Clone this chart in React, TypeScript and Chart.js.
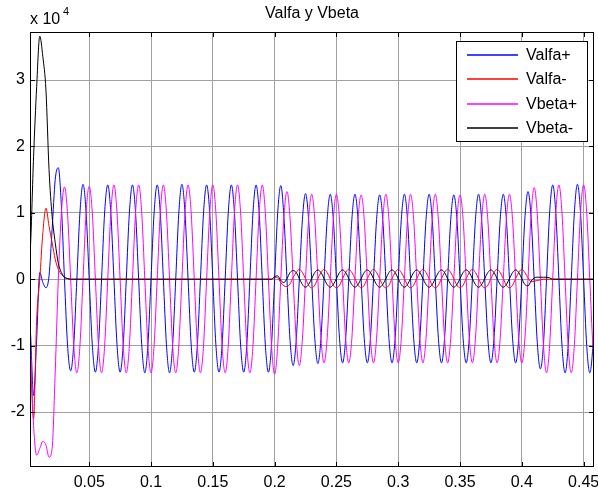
import React, { useEffect, useRef } from "react";
import { Chart, registerables } from "chart.js";

Chart.register(...registerables);

// ---- data (values in units of 10^4, one sample every 2.5 ms, 8 samples per 20 ms cycle) ----
const SAMPLE_STEP = 0.0025;

const X_TICKS = [0.05, 0.1, 0.15, 0.2, 0.25, 0.3, 0.35, 0.4, 0.45];
const X_TICK_LABELS = ["0.05", "0.1", "0.15", "0.2", "0.25", "0.3", "0.35", "0.4", "0.45"];
const Y_TICKS = [-2, -1, 0, 1, 2, 3];
const Y_TICK_LABELS = ["-2", "-1", "0", "1", "2", "3"];
const SERIES_NAMES = ["Valfa+", "Valfa-", "Vbeta+", "Vbeta-"];
const TITLE = "Valfa y Vbeta";

const VALFA_POS = [
  0, -0.8, -1.75, -0.9, 0.1, -0.05, -0.13, 0.05,
  0.75, 1.5, 1.68, 1.1, 0, -1.0, -1.38, -0.98,
  0, 1.0, 1.43, 1.0, 0, -0.99, -1.4, -0.99,
  0, 1.01, 1.42, 1.0, 0, -0.99, -1.4, -0.99,
  0, 1.0, 1.42, 1.0, 0, -0.99, -1.41, -0.99,
  0, 1.0, 1.42, 1.0, 0, -0.99, -1.41, -0.99,
  0, 1.0, 1.43, 1.0, 0, -0.99, -1.4, -0.99,
  0, 1.0, 1.42, 1.0, 0, -0.99, -1.4, -0.99,
  0, 1.0, 1.42, 1.0, 0, -0.99, -1.4, -0.99,
  0, 1.0, 1.42, 1.0, 0, -0.99, -1.4, -0.99,
  0, 1.0, 1.41, 0.95, 0, -0.92, -1.3, -0.91,
  0, 0.9, 1.29, 0.9, 0, -0.89, -1.27, -0.89,
  0, 0.9, 1.28, 0.9, 0, -0.89, -1.26, -0.89,
  0, 0.9, 1.28, 0.9, 0, -0.89, -1.26, -0.89,
  0, 0.9, 1.27, 0.9, 0, -0.89, -1.26, -0.89,
  0, 0.9, 1.28, 0.9, 0, -0.89, -1.26, -0.89,
  0, 0.9, 1.28, 0.9, 0, -0.89, -1.26, -0.89,
  0, 0.9, 1.27, 0.9, 0, -0.89, -1.26, -0.89,
  0, 0.9, 1.28, 0.9, 0, -0.89, -1.26, -0.89,
  0, 0.9, 1.28, 0.9, 0, -0.89, -1.26, -0.89,
  0, 0.92, 1.32, 0.93, 0, -0.95, -1.35, -0.98,
  0, 1.0, 1.42, 1.0, 0, -1.0, -1.41, -1.0,
  0, 1.0, 1.43, 1.0, 0, -1.0, -1.41, -1.0,
  0,
];

const VALFA_NEG = [
  0, -1.2, -2.1, -0.6, 0.0, 0.7, 1.07, 0.8,
  0.55, 0.3, 0.15, 0.07, 0.03, 0.01, 0, 0,
  0, 0, 0, 0, 0, 0, 0, 0,
  0, 0, 0, 0, 0, 0, 0, 0,
  0, 0, 0, 0, 0, 0, 0, 0,
  0, 0, 0, 0, 0, 0, 0, 0,
  0, 0, 0, 0, 0, 0, 0, 0,
  0, 0, 0, 0, 0, 0, 0, 0,
  0, 0, 0, 0, 0, 0, 0, 0,
  0, 0, 0, 0, 0, 0, 0, 0,
  0.03, 0.02, -0.05, -0.1, -0.11, -0.07, 0.03, 0.1,
  0.15, 0.1, 0.01, -0.09, -0.13, -0.09, 0.01, 0.1,
  0.15, 0.1, 0.01, -0.09, -0.13, -0.09, 0.01, 0.1,
  0.15, 0.1, 0.01, -0.09, -0.13, -0.09, 0.01, 0.1,
  0.15, 0.1, 0.01, -0.09, -0.13, -0.09, 0.01, 0.1,
  0.15, 0.1, 0.01, -0.09, -0.13, -0.09, 0.01, 0.1,
  0.15, 0.1, 0.01, -0.09, -0.13, -0.09, 0.01, 0.1,
  0.15, 0.1, 0.01, -0.09, -0.13, -0.09, 0.01, 0.1,
  0.15, 0.1, 0.01, -0.09, -0.13, -0.09, 0.01, 0.1,
  0.15, 0.1, 0.01, -0.09, -0.13, -0.09, 0.01, 0.1,
  0.15, 0.1, 0.02, -0.04, -0.03, -0.02, -0.01, 0,
  0, 0, 0, 0, 0, 0, 0, 0,
  0, 0, 0, 0, 0, 0, 0, 0,
  0,
];

const VBETA_POS = [
  0, -1.0, -2.2, -2.65, -2.55, -2.44, -2.5, -2.68,
  -2.55, -1.4, 0.0, 1.0, 1.39, 0.98, 0, -0.99,
  -1.41, -1.0, 0, 1.0, 1.4, 1.0, 0, -1.0,
  -1.41, -1.0, 0, 1.0, 1.42, 1.0, 0, -1.0,
  -1.41, -1.0, 0, 1.0, 1.42, 1.0, 0, -1.0,
  -1.41, -1.0, 0, 1.0, 1.42, 1.0, 0, -1.0,
  -1.41, -1.0, 0, 1.0, 1.42, 1.0, 0, -1.0,
  -1.41, -1.0, 0, 1.0, 1.42, 1.0, 0, -1.0,
  -1.41, -1.0, 0, 1.0, 1.42, 1.0, 0, -1.0,
  -1.41, -1.0, 0, 1.0, 1.42, 1.0, 0, -1.0,
  -1.43, -1.0, 0, 0.93, 1.32, 0.92, 0, -0.91,
  -1.3, -0.9, 0, 0.9, 1.28, 0.9, 0, -0.89,
  -1.26, -0.89, 0, 0.9, 1.28, 0.9, 0, -0.89,
  -1.26, -0.89, 0, 0.9, 1.27, 0.9, 0, -0.89,
  -1.26, -0.89, 0, 0.9, 1.28, 0.9, 0, -0.89,
  -1.26, -0.89, 0, 0.9, 1.28, 0.9, 0, -0.89,
  -1.26, -0.89, 0, 0.9, 1.28, 0.9, 0, -0.89,
  -1.26, -0.89, 0, 0.9, 1.27, 0.9, 0, -0.89,
  -1.26, -0.89, 0, 0.9, 1.28, 0.9, 0, -0.89,
  -1.26, -0.89, 0, 0.9, 1.28, 0.9, 0, -0.89,
  -1.26, -0.9, 0, 0.97, 1.38, 0.98, 0, -0.99,
  -1.41, -1.0, 0, 1.0, 1.42, 1.0, 0, -1.0,
  -1.41, -1.0, 0, 1.0, 1.42, 1.0, 0, -1.0,
  -1.41,
];

const VBETA_NEG = [
  0, 0.5, 1.85, 2.9, 3.66, 3.35, 2.85, 1.65,
  0.95, 0.55, 0.24, 0.1, 0.03, 0.01, 0, 0,
  0, 0, 0, 0, 0, 0, 0, 0,
  0, 0, 0, 0, 0, 0, 0, 0,
  0, 0, 0, 0, 0, 0, 0, 0,
  0, 0, 0, 0, 0, 0, 0, 0,
  0, 0, 0, 0, 0, 0, 0, 0,
  0, 0, 0, 0, 0, 0, 0, 0,
  0, 0, 0, 0, 0, 0, 0, 0,
  0, 0, 0, 0, 0, 0, 0, 0,
  0.04, 0.05, -0.02, -0.05, 0.01, 0.1, 0.13, 0.1,
  0.01, -0.08, -0.12, -0.08, 0.01, 0.1, 0.14, 0.1,
  0.01, -0.08, -0.12, -0.08, 0.01, 0.1, 0.14, 0.1,
  0.01, -0.08, -0.12, -0.08, 0.01, 0.1, 0.14, 0.1,
  0.01, -0.08, -0.12, -0.08, 0.01, 0.1, 0.14, 0.1,
  0.01, -0.08, -0.12, -0.08, 0.01, 0.1, 0.14, 0.1,
  0.01, -0.08, -0.12, -0.08, 0.01, 0.1, 0.14, 0.1,
  0.01, -0.08, -0.12, -0.08, 0.01, 0.1, 0.14, 0.1,
  0.01, -0.08, -0.12, -0.08, 0.01, 0.1, 0.14, 0.1,
  0.01, -0.08, -0.12, -0.08, 0.01, 0.1, 0.14, 0.1,
  0.01, -0.08, -0.1, -0.03, 0.02, 0.03, 0.03, 0.03,
  0.03, 0.02, 0, 0, 0, 0, 0, 0,
  0, 0, 0, 0, 0, 0, 0, 0,
  0,
];

const TIME = VALFA_POS.map((_, i) => +(i * SAMPLE_STEP).toFixed(4));

// ---- styles ----
const COLORS = ["#0000ff", "#ff0000", "#ff00ff", "#000000"];
const FONT_FAMILY = '"Liberation Sans", Arial, Helvetica, sans-serif';
const FONT_SIZE = 16;
const GRID_COLOR = "#a0a0a0";

const decorPlugin = {
  id: "matlabDecor",
  afterDraw(chart: any) {
    const { ctx, chartArea, scales } = chart;
    const { left, right, top, bottom } = chartArea;
    ctx.save();
    ctx.strokeStyle = "#000";
    ctx.lineWidth = 1;
    // box
    ctx.strokeRect(left + 0.5, top + 0.5, right - left - 1, bottom - top - 1);
    // inward ticks
    ctx.beginPath();
    const tl = 5;
    X_TICKS.forEach((v) => {
      const px = Math.round(scales.x.getPixelForValue(v)) + 0.5;
      ctx.moveTo(px, bottom);
      ctx.lineTo(px, bottom - tl);
      ctx.moveTo(px, top);
      ctx.lineTo(px, top + tl);
    });
    Y_TICKS.forEach((v) => {
      const py = Math.round(scales.y.getPixelForValue(v)) + 0.5;
      ctx.moveTo(left, py);
      ctx.lineTo(left + tl, py);
      ctx.moveTo(right, py);
      ctx.lineTo(right - tl, py);
    });
    ctx.stroke();

    // title
    ctx.fillStyle = "#000";
    ctx.font = `${FONT_SIZE}px ${FONT_FAMILY}`;
    ctx.textAlign = "center";
    ctx.textBaseline = "alphabetic";
    ctx.fillText(TITLE, (left + right) / 2, 18);

    // exponent label
    ctx.textAlign = "left";
    ctx.fillText("x 10", left, 24);
    ctx.font = `11px ${FONT_FAMILY}`;
    ctx.fillText("4", left + 33, 15);

    // legend
    const lx = 456, ly = 41, lw = 131, lh = 100;
    ctx.fillStyle = "#fff";
    ctx.fillRect(lx, ly, lw, lh);
    ctx.strokeStyle = "#000";
    ctx.lineWidth = 1;
    ctx.strokeRect(lx + 0.5, ly + 0.5, lw, lh);
    ctx.font = `${FONT_SIZE}px ${FONT_FAMILY}`;
    ctx.textBaseline = "middle";
    SERIES_NAMES.forEach((name, k) => {
      const y = Math.round(ly + 14 + k * 24.3);
      ctx.beginPath();
      ctx.strokeStyle = COLORS[k];
      ctx.lineWidth = 1.3;
      ctx.moveTo(lx + 11, y);
      ctx.lineTo(lx + 62, y);
      ctx.stroke();
      ctx.fillStyle = "#000";
      ctx.fillText(name, lx + 70, y + 1);
    });
    ctx.restore();
  },
};

export default function App() {
  const ref = useRef<HTMLCanvasElement>(null);

  useEffect(() => {
    document.body.style.margin = "0";
    const series = [VALFA_POS, VALFA_NEG, VBETA_POS, VBETA_NEG];
    const chart = new Chart(ref.current as HTMLCanvasElement, {
      type: "line",
      data: {
        datasets: series.map((s, k) => ({
          label: SERIES_NAMES[k],
          data: s.map((v, i) => ({ x: TIME[i], y: v })),
          borderColor: COLORS[k],
          backgroundColor: COLORS[k],
          borderWidth: 1,
          pointRadius: 0,
          fill: false,
          cubicInterpolationMode: "monotone",
          order: 4 - k,
        })),
      },
      options: {
        responsive: false,
        animation: false,
        devicePixelRatio: 1,
        layout: { padding: { top: 32, right: 4, left: 0, bottom: 0 } },
        plugins: {
          legend: { display: false },
          tooltip: { enabled: false },
          title: { display: false },
        },
        scales: {
          x: {
            type: "linear",
            min: 0.0021,
            max: 0.4584,
            afterBuildTicks: (s: any) => {
              s.ticks = X_TICKS.map((v) => ({ value: v }));
            },
            afterFit: (s: any) => {
              s.height = 28;
              s.paddingLeft = 0;
              s.paddingRight = 0;
            },
            ticks: {
              callback: (_v: any, i: number) => X_TICK_LABELS[i],
              font: { family: FONT_FAMILY, size: FONT_SIZE },
              color: "#000",
              padding: 6,
              maxRotation: 0,
              autoSkip: false,
            },
            grid: { color: GRID_COLOR, drawTicks: false, lineWidth: 1 },
            border: { display: false },
          },
          y: {
            type: "linear",
            min: -2.828,
            max: 3.723,
            afterBuildTicks: (s: any) => {
              s.ticks = Y_TICKS.map((v) => ({ value: v }));
            },
            afterFit: (s: any) => {
              s.width = 30;
              s.paddingTop = 0;
              s.paddingBottom = 0;
            },
            ticks: {
              callback: (_v: any, i: number) => Y_TICK_LABELS[i],
              font: { family: FONT_FAMILY, size: FONT_SIZE },
              color: "#000",
              padding: 5,
              autoSkip: false,
            },
            grid: { color: GRID_COLOR, drawTicks: false, lineWidth: 1 },
            border: { display: false },
          },
        },
      } as any,
      plugins: [decorPlugin],
    });
    return () => chart.destroy();
  }, []);

  return (
    <div style={{ width: 598, height: 495, background: "#fff" }}>
      <canvas ref={ref} width={598} height={495} style={{ display: "block" }} />
    </div>
  );
}
